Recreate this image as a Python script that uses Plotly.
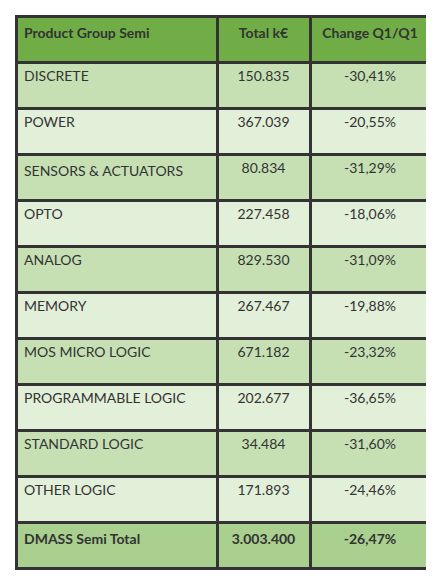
import plotly.graph_objects as go

groups = ["DISCRETE", "POWER", "SENSORS & ACTUATORS", "OPTO", "ANALOG", "MEMORY",
          "MOS MICRO LOGIC", "PROGRAMMABLE LOGIC", "STANDARD LOGIC", "OTHER LOGIC",
          "<b>DMASS Semi Total</b>"]
totals = ["150.835", "367.039", "80.834", "227.458", "829.530", "267.467",
          "671.182", "202.677", "34.484", "171.893", "<b>3.003.400</b>"]
changes = ["-30,41%", "-20,55%", "-31,29%", "-18,06%", "-31,09%", "-19,88%",
           "-23,32%", "-36,65%", "-31,60%", "-24,46%", "<b>-26,47%</b>"]
headers = ["<b>Product Group Semi</b>", "<b>Total k€</b>", "<b>Change Q1/Q1</b>"]

fills = ["#c6e0b4" if i % 2 == 0 else "#e2efd9" for i in range(len(groups) - 1)] + ["#a9d08e"]

fig = go.Figure(go.Table(
    columnwidth=[201, 93, 120],
    domain=dict(x=[8 / 434, 422 / 434], y=[8 / 583, 1 - 8 / 583]),
    header=dict(values=headers, fill_color="#70ad47", line=dict(color="#333333", width=3),
                align=["left", "center", "center"], height=46,
                font=dict(family="Lato", size=14, color="#333333")),
    cells=dict(values=[groups, totals, changes], fill_color=[fills] * 3,
               line=dict(color="#333333", width=3),
               align=["left", "center", "center"], height=46,
               font=dict(family="Lato", size=14, color="#333333")),
))
fig.update_layout(width=434, height=583, margin=dict(l=0, r=0, t=0, b=0),
                  paper_bgcolor="white")
fig.write_html("out.html")
